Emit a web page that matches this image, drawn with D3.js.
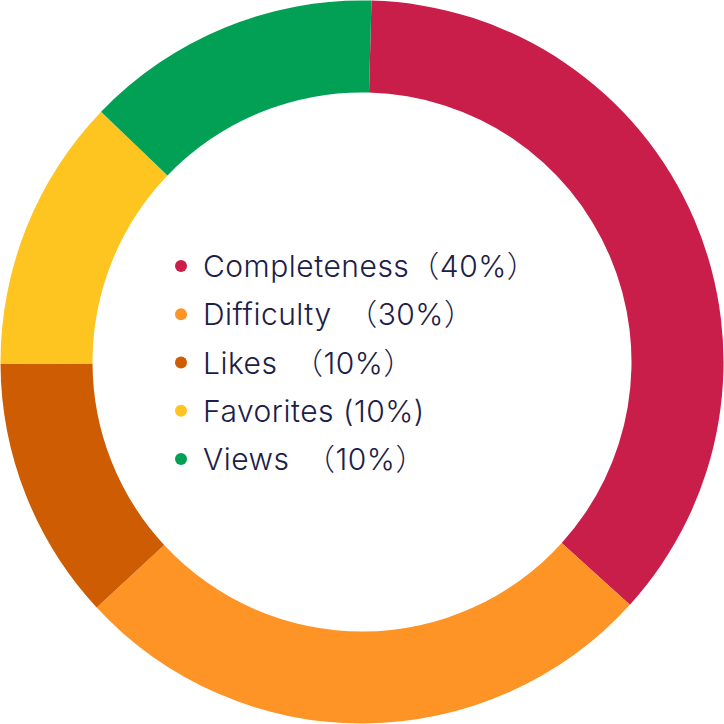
<!DOCTYPE html>
<html>
<head>
<meta charset="utf-8">
<script src="https://cdn.jsdelivr.net/npm/d3@7"></script>
<style>
  html, body { margin: 0; padding: 0; background: #ffffff; }
  svg { display: block; }
</style>
</head>
<body>
<div id="chart"></div>
<script>
// ---- data ----
const categories = ["Completeness", "Difficulty", "Likes", "Favorites", "Views"];
// drawn slice sizes, as measured from the ring
const sliceValues = [36.3, 26.4, 11.8, 12.25, 13.25];
// legend labels exactly as printed
const legendLabels = [
  "Completeness（40%）",
  "Difficulty\u2002（30%）",
  "Likes\u2002（10%）",
  "Favorites (10%)",
  "Views\u2002（10%）"
];
const colors = ["#CA1E4A", "#FE9326", "#CD5C02", "#FEC520", "#01A055"];

// ---- layout ----
const W = 724, H = 724;
const cx = 362, cy = 362;
const outerR = 361.5, innerR = 269.5;
const startDeg = 1.5;

const svg = d3.select("#chart").append("svg")
  .attr("width", W).attr("height", H);

const pie = d3.pie()
  .sort(null)
  .value(d => d.value)
  .startAngle(startDeg * Math.PI / 180)
  .endAngle(startDeg * Math.PI / 180 + 2 * Math.PI);

const arc = d3.arc().innerRadius(innerR).outerRadius(outerR);

const data = categories.map((c, i) => ({ name: c, value: sliceValues[i], color: colors[i] }));

svg.append("g")
  .attr("transform", `translate(${cx},${cy})`)
  .selectAll("path")
  .data(pie(data))
  .join("path")
  .attr("d", arc)
  .attr("fill", d => d.data.color);

// ---- legend ----
const rowY = d3.scalePoint()
  .domain(categories)
  .range([277, 470]);

const legend = svg.append("g");
const rows = legend.selectAll("g")
  .data(data)
  .join("g")
  .attr("transform", d => `translate(0,${rowY(d.name)})`);

rows.append("circle")
  .attr("cx", 181)
  .attr("cy", -11)
  .attr("r", 6)
  .attr("fill", d => d.color);

rows.append("text")
  .attr("x", 203)
  .attr("y", 0)
  .attr("fill", "#1C2047")
  .style("font-family", "Inter, 'Noto Sans CJK SC', sans-serif")
  .style("font-size", "30px")
  .style("font-weight", 300)
  .style("letter-spacing", "0.5px")
  .style("white-space", "pre")
  .text((d, i) => legendLabels[i]);
</script>
</body>
</html>
